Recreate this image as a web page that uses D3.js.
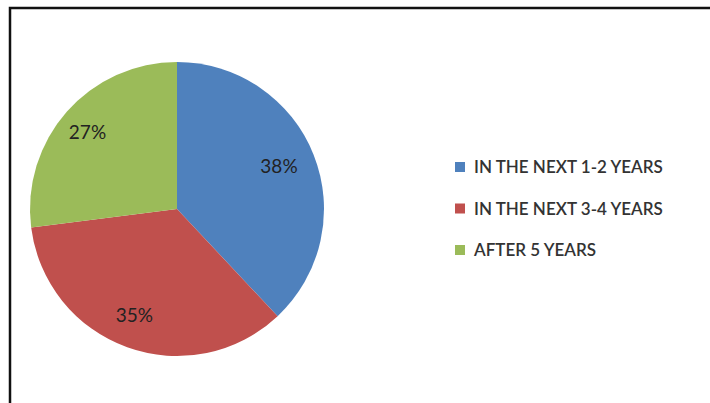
<!DOCTYPE html>
<html>
<head>
<meta charset="utf-8">
<script src="https://cdn.jsdelivr.net/npm/d3@7"></script>
<style>
  html, body { margin: 0; padding: 0; background: #fff; }
  svg { display: block; }
</style>
</head>
<body>
<svg id="chart" width="710" height="403"></svg>
<script>
// Timeframe shares
const categories = ["IN THE NEXT 1-2 YEARS", "IN THE NEXT 3-4 YEARS", "AFTER 5 YEARS"];
const values = [38, 35, 27];
const labels = ["38%", "35%", "27%"];
const colors = ["#4F81BD", "#C0504D", "#9BBB59"];

const svg = d3.select("#chart");

// chart frame (runs off the right and bottom edges)
svg.append("rect")
  .attr("x", 10).attr("y", 8)
  .attr("width", 760).attr("height", 460)
  .attr("fill", "#fff")
  .attr("stroke", "#111")
  .attr("stroke-width", 2.5);

const cx = 177, cy = 209, r = 147;

const pie = d3.pie().sort(null).value(d => d.value);
const data = categories.map((c, i) => ({ name: c, value: values[i], label: labels[i], color: colors[i] }));
const arcs = pie(data);

const arc = d3.arc().innerRadius(0).outerRadius(r);
const labelArc = d3.arc().innerRadius(114).outerRadius(114);

const g = svg.append("g").attr("transform", `translate(${cx},${cy})`);

g.selectAll("path.slice")
  .data(arcs)
  .join("path")
  .attr("class", "slice")
  .attr("d", arc)
  .attr("fill", d => d.data.color);

g.selectAll("text.pct")
  .data(arcs)
  .join("text")
  .attr("class", "pct")
  .attr("transform", d => {
    const [x, y] = labelArc.centroid(d);
    return `translate(${x - 4},${y - 1})`;
  })
  .attr("text-anchor", "middle")
  .attr("dy", "0.35em")
  .attr("font-family", "Lato, 'Open Sans', sans-serif")
  .attr("font-size", 19)
  .attr("fill", "#222")
  .text(d => d.data.label);

// legend
const legend = svg.append("g").attr("transform", "translate(455,167)");
const rows = legend.selectAll("g.row")
  .data(data)
  .join("g")
  .attr("class", "row")
  .attr("transform", (d, i) => `translate(0,${i * 41.5})`);

rows.append("rect")
  .attr("x", 0).attr("y", -5)
  .attr("width", 10).attr("height", 10)
  .attr("fill", d => d.color);

rows.append("text")
  .attr("x", 19)
  .attr("dy", "0.36em")
  .attr("font-family", "Lato, 'Open Sans', sans-serif")
  .attr("font-size", 17)
  .attr("font-weight", 600)
  .attr("fill", "#333")
  .text(d => d.name);
</script>
</body>
</html>
